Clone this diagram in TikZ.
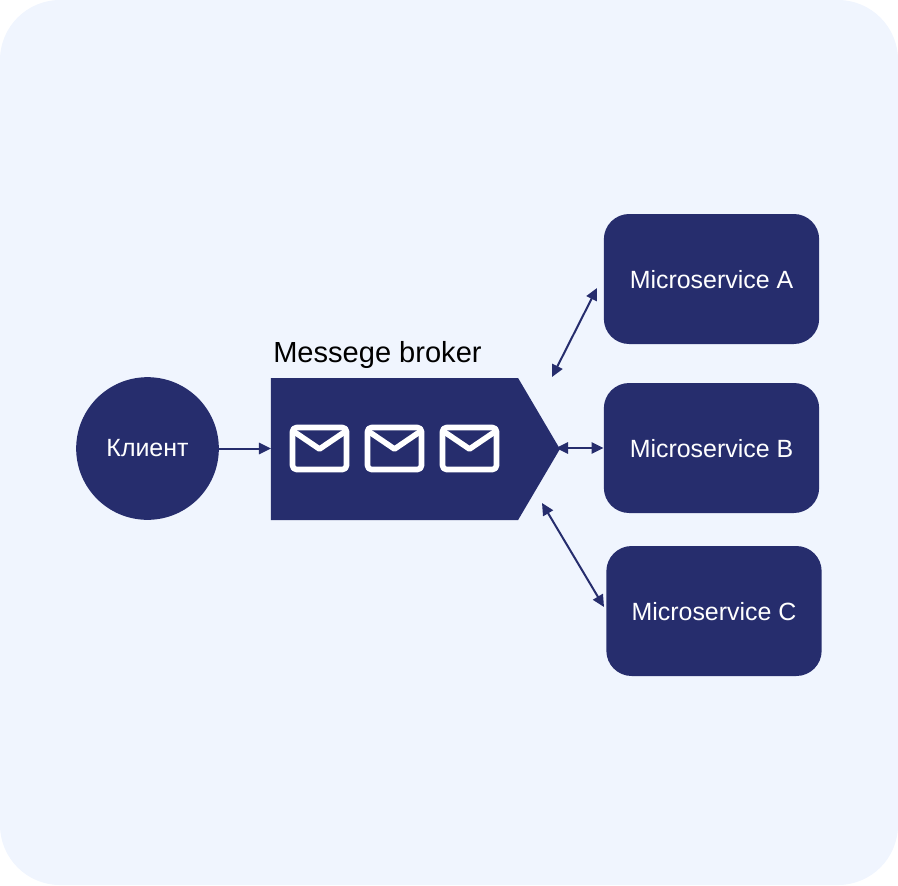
\documentclass[tikz,border=0pt]{standalone}
\usepackage{fontspec}
\setmainfont{Liberation Sans}
\usetikzlibrary{arrows.meta,shapes.symbols}
\definecolor{navy}{HTML}{262D6D}
\definecolor{backdrop}{HTML}{F0F5FE}
\tikzset{
  service/.style={fill=navy,text=white,rounded corners=19pt,minimum width=161.5pt,minimum height=97.5pt,inner sep=0pt,text height=15pt,font=\fontsize{18.7}{22}\selectfont},
  link/.style={navy,line width=1.5pt,{Triangle[length=9pt,width=8.5pt]}-{Triangle[length=9pt,width=8.5pt]}},
  envelope/.style={draw=white,line width=4.2pt,line join=round}
}
\begin{document}
\begin{tikzpicture}[x=0.75pt,y=-0.75pt]
  \useasboundingbox (0,0) rectangle (898,885);
  \fill[backdrop,rounded corners=45pt] (0,0) rectangle (898,885);

  \node[circle,fill=navy,text=white,minimum size=107pt,inner sep=0pt,font=\fontsize{18.7}{22}\selectfont] (client) at (147.5,448.5) {Клиент};
  \node[signal,signal to=east,signal pointer angle=119,fill=navy,minimum width=216.75pt,minimum height=106.5pt,inner sep=0pt,outer sep=0pt] (broker) at (394.5,449) {};
  \node[anchor=base west,inner sep=0pt,font=\fontsize{21.8}{26}\selectfont] (brokertitle) at (273,362) {Messege broker};

  \node[service] (svca) at (711.5,279) {Microservice A};
  \node[service] (svcb) at (711.5,448) {Microservice B};
  \node[service] (svcc) at (714,611) {Microservice C};

  % letters in the queue
  \foreach \x in {290,365,440} {
    \draw[envelope,rounded corners=3pt] (\x+2.5,427.5) rectangle (\x+56.5,469.5);
    \draw[envelope] (\x+3,431) -- (\x+29.5,449) -- (\x+56,431);
  }

  \coordinate (enda) at (552,377);
  \coordinate (topa) at (597,288);
  \coordinate (endb) at (556,448);
  \coordinate (endc) at (542,503);
  \coordinate (topc) at (604,607);

  \draw[navy,line width=1.5pt,-{Triangle[length=9pt,width=8.5pt]}] (client.east) -- (broker.west |- client.east);
  \draw[link] (enda) -- (topa);
  \draw[link] (endb) -- (svcb.west);
  \draw[link] (endc) -- (topc);
\end{tikzpicture}
\end{document}
